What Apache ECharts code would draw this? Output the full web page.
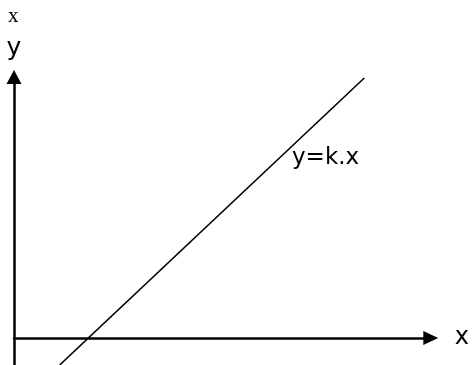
<!DOCTYPE html>
<html>
<head>
<meta charset="utf-8">
<script src="https://cdn.jsdelivr.net/npm/echarts@6/dist/echarts.min.js"></script>
<style>
  html, body { margin: 0; padding: 0; background: #fff; }
  #chart { width: 472px; height: 365px; }
</style>
</head>
<body>
<div id="chart"></div>
<script>
// data (units ~ pixels of the original sketch, origin at the axes' crossing)
var lineX = [46, 353];
var lineY = [-27, 260];
var xRange = [0, 420];
var yRange = [-27, 261];
var lineName = 'y=k.x';

(function () {
  var myChart = echarts.init(document.getElementById('chart'));
  var pts = lineX.map(function (x, i) { return [x, lineY[i]]; });
  var option = {
    animation: false,
    grid: { left: 14, right: 38, top: 77, bottom: 0 },
    xAxis: {
      type: 'value',
      min: xRange[0],
      max: xRange[1],
      name: 'x',
      nameLocation: 'end',
      nameGap: 24,
      nameTextStyle: { color: '#000', fontSize: 24, fontFamily: 'DejaVu Sans', padding: [0, 0, 6, 0] },
      axisLine: {
        onZero: true,
        symbol: ['none', 'triangle'],
        symbolSize: [14, 15],
        lineStyle: { color: '#000', width: 2.5 }
      },
      axisTick: { show: false },
      axisLabel: { show: false },
      splitLine: { show: false }
    },
    yAxis: {
      type: 'value',
      min: yRange[0],
      max: yRange[1],
      name: 'y',
      nameLocation: 'end',
      nameGap: 16,
      nameTextStyle: { color: '#000', fontSize: 25, fontFamily: 'DejaVu Sans', align: 'center' },
      axisLine: {
        onZero: true,
        symbol: ['none', 'triangle'],
        symbolSize: [15, 14],
        lineStyle: { color: '#000', width: 2.5 }
      },
      axisTick: { show: false },
      axisLabel: { show: false },
      splitLine: { show: false }
    },
    graphic: [
      {
        type: 'text',
        left: 8,
        top: 6,
        style: { text: 'x', fill: '#000', font: '21px "Liberation Serif"' }
      },
      {
        type: 'text',
        x: 292,
        y: 158,
        style: { text: lineName, fill: '#000', font: '23px "DejaVu Sans"', verticalAlign: 'middle' }
      }
    ],
    series: [
      {
        name: lineName,
        type: 'line',
        data: pts,
        showSymbol: false,
        lineStyle: { color: '#000', width: 1.6 }
      }
    ]
  };
  myChart.setOption(option);
  window.addEventListener('resize', function () { myChart.resize(); });
})();
</script>
</body>
</html>
